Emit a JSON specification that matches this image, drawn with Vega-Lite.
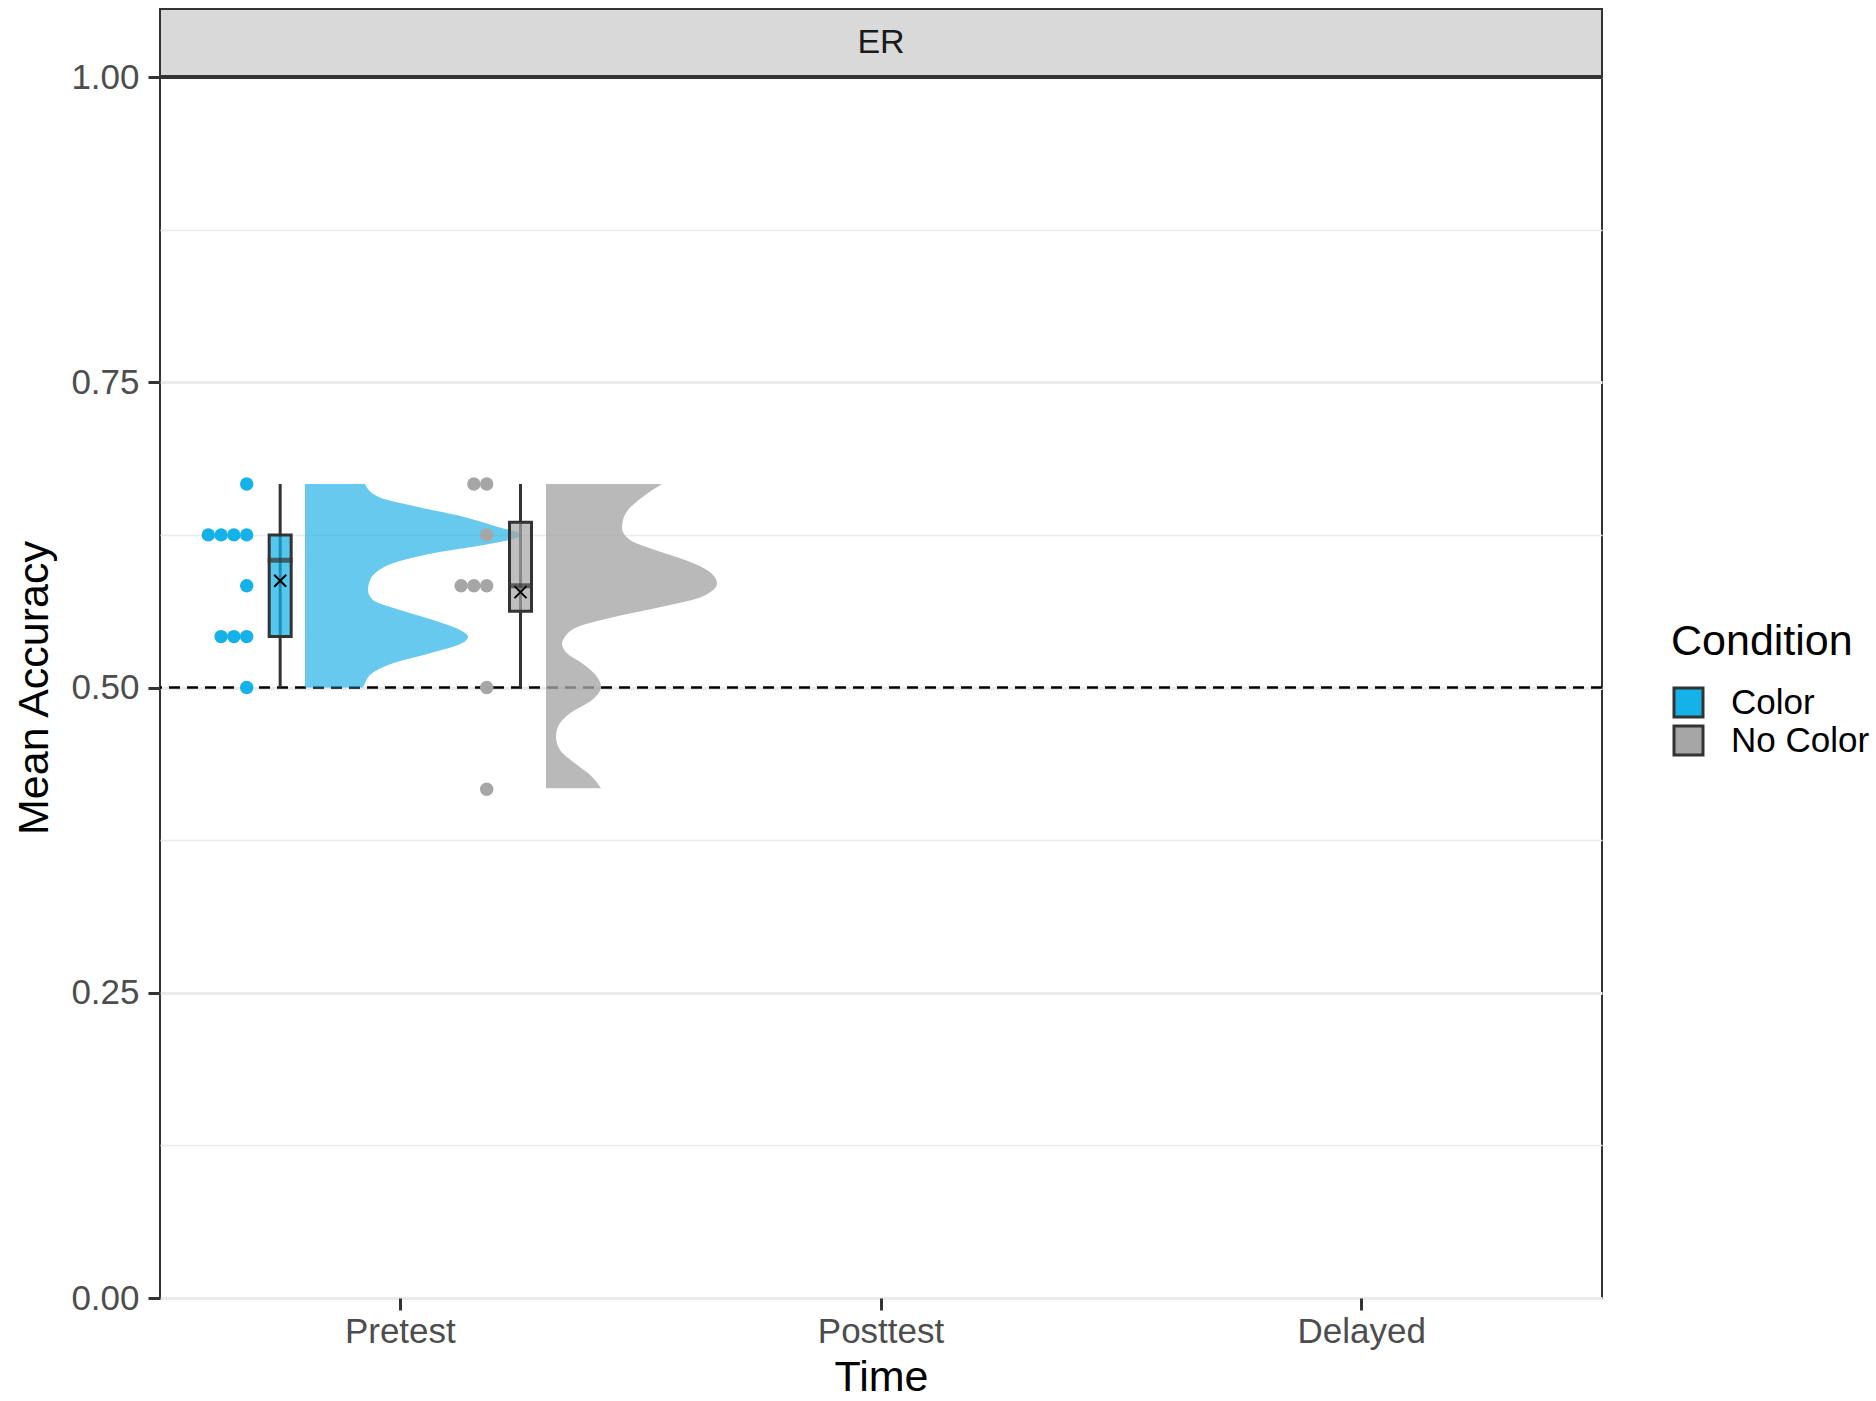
{
  "$schema": "https://vega.github.io/schema/vega-lite/v6.json",
  "width": 1442,
  "height": 1289,
  "autosize": {"type": "none"},
  "padding": {"left": 160, "top": 9, "right": 274, "bottom": 103},
  "background": "white",
  "datasets": {
    "points": [
      {"Time": "Pretest", "Condition": "Color", "Accuracy": 0.6667},
      {"Time": "Pretest", "Condition": "Color", "Accuracy": 0.625},
      {"Time": "Pretest", "Condition": "Color", "Accuracy": 0.625},
      {"Time": "Pretest", "Condition": "Color", "Accuracy": 0.625},
      {"Time": "Pretest", "Condition": "Color", "Accuracy": 0.625},
      {"Time": "Pretest", "Condition": "Color", "Accuracy": 0.5833},
      {"Time": "Pretest", "Condition": "Color", "Accuracy": 0.5417},
      {"Time": "Pretest", "Condition": "Color", "Accuracy": 0.5417},
      {"Time": "Pretest", "Condition": "Color", "Accuracy": 0.5417},
      {"Time": "Pretest", "Condition": "Color", "Accuracy": 0.5},
      {"Time": "Pretest", "Condition": "No Color", "Accuracy": 0.6667},
      {"Time": "Pretest", "Condition": "No Color", "Accuracy": 0.6667},
      {"Time": "Pretest", "Condition": "No Color", "Accuracy": 0.625},
      {"Time": "Pretest", "Condition": "No Color", "Accuracy": 0.5833},
      {"Time": "Pretest", "Condition": "No Color", "Accuracy": 0.5833},
      {"Time": "Pretest", "Condition": "No Color", "Accuracy": 0.5833},
      {"Time": "Pretest", "Condition": "No Color", "Accuracy": 0.5},
      {"Time": "Pretest", "Condition": "No Color", "Accuracy": 0.4167}
    ],
    "boxes": [
      {"Time": "Pretest", "Condition": "Color", "Min": 0.5, "Q1": 0.5417, "Median": 0.6042, "Q3": 0.625, "Max": 0.6667, "Mean": 0.5875},
      {"Time": "Pretest", "Condition": "No Color", "Min": 0.5, "Q1": 0.5625, "Median": 0.5833, "Q3": 0.6354, "Max": 0.6667, "Mean": 0.5781}
    ],
    "density": [
      {"Condition": "Color", "Accuracy": 0.6667, "Density": 6.0},
      {"Condition": "Color", "Accuracy": 0.6563, "Density": 7.3},
      {"Condition": "Color", "Accuracy": 0.6481, "Density": 11.2},
      {"Condition": "Color", "Accuracy": 0.6399, "Density": 15.8},
      {"Condition": "Color", "Accuracy": 0.6317, "Density": 19.2},
      {"Condition": "Color", "Accuracy": 0.6249, "Density": 21.7},
      {"Condition": "Color", "Accuracy": 0.6181, "Density": 18.8},
      {"Condition": "Color", "Accuracy": 0.6099, "Density": 12.8},
      {"Condition": "Color", "Accuracy": 0.6017, "Density": 8.8},
      {"Condition": "Color", "Accuracy": 0.5935, "Density": 7.0},
      {"Condition": "Color", "Accuracy": 0.5853, "Density": 6.4},
      {"Condition": "Color", "Accuracy": 0.5799, "Density": 6.3},
      {"Condition": "Color", "Accuracy": 0.5717, "Density": 6.8},
      {"Condition": "Color", "Accuracy": 0.5635, "Density": 9.5},
      {"Condition": "Color", "Accuracy": 0.5553, "Density": 12.8},
      {"Condition": "Color", "Accuracy": 0.5471, "Density": 15.5},
      {"Condition": "Color", "Accuracy": 0.5416, "Density": 16.3},
      {"Condition": "Color", "Accuracy": 0.5362, "Density": 15.7},
      {"Condition": "Color", "Accuracy": 0.528, "Density": 12.5},
      {"Condition": "Color", "Accuracy": 0.5198, "Density": 8.8},
      {"Condition": "Color", "Accuracy": 0.5116, "Density": 6.7},
      {"Condition": "Color", "Accuracy": 0.5034, "Density": 6.0},
      {"Condition": "Color", "Accuracy": 0.5, "Density": 5.8},
      {"Condition": "No Color", "Accuracy": 0.6667, "Density": 11.6},
      {"Condition": "No Color", "Accuracy": 0.6563, "Density": 9.7},
      {"Condition": "No Color", "Accuracy": 0.6454, "Density": 8.2},
      {"Condition": "No Color", "Accuracy": 0.6372, "Density": 7.7},
      {"Condition": "No Color", "Accuracy": 0.6304, "Density": 7.6},
      {"Condition": "No Color", "Accuracy": 0.6208, "Density": 8.4},
      {"Condition": "No Color", "Accuracy": 0.6126, "Density": 10.9},
      {"Condition": "No Color", "Accuracy": 0.6044, "Density": 13.9},
      {"Condition": "No Color", "Accuracy": 0.5962, "Density": 16.1},
      {"Condition": "No Color", "Accuracy": 0.5853, "Density": 17.1},
      {"Condition": "No Color", "Accuracy": 0.5744, "Density": 15.6},
      {"Condition": "No Color", "Accuracy": 0.5662, "Density": 11.6},
      {"Condition": "No Color", "Accuracy": 0.558, "Density": 6.9},
      {"Condition": "No Color", "Accuracy": 0.5498, "Density": 3.2},
      {"Condition": "No Color", "Accuracy": 0.5416, "Density": 1.9},
      {"Condition": "No Color", "Accuracy": 0.5362, "Density": 1.6},
      {"Condition": "No Color", "Accuracy": 0.528, "Density": 2.1},
      {"Condition": "No Color", "Accuracy": 0.5198, "Density": 3.6},
      {"Condition": "No Color", "Accuracy": 0.5088, "Density": 5.1},
      {"Condition": "No Color", "Accuracy": 0.5007, "Density": 5.5},
      {"Condition": "No Color", "Accuracy": 0.4898, "Density": 4.6},
      {"Condition": "No Color", "Accuracy": 0.4789, "Density": 2.4},
      {"Condition": "No Color", "Accuracy": 0.4679, "Density": 1.2},
      {"Condition": "No Color", "Accuracy": 0.4597, "Density": 1.0},
      {"Condition": "No Color", "Accuracy": 0.4488, "Density": 1.4},
      {"Condition": "No Color", "Accuracy": 0.4379, "Density": 2.9},
      {"Condition": "No Color", "Accuracy": 0.427, "Density": 4.6},
      {"Condition": "No Color", "Accuracy": 0.4175, "Density": 5.5}
    ],
    "panel": [{"Task": "ER"}]
  },
  "resolve": {"scale": {"x": "independent", "xOffset": "independent"}},
  "layer": [
    {
      "data": {"name": "panel"},
      "mark": {"type": "rect", "fill": "#D9D9D9", "stroke": "#333333", "strokeWidth": 2},
      "encoding": {
        "y": {"datum": 1, "type": "quantitative", "title": "Mean Accuracy", "scale": {"domain": [0, 1.0557], "nice": false, "zero": false}},
        "y2": {"datum": 1.0557}
      }
    },
    {
      "data": {"name": "panel"},
      "mark": {"type": "text", "fontSize": 34, "color": "#1A1A1A", "font": "Liberation Sans", "baseline": "middle", "align": "center"},
      "encoding": {
        "x": {"datum": "Posttest", "type": "nominal", "scale": {"domain": ["Pretest", "Posttest", "Delayed"]}, "axis": null},
        "y": {"datum": 1.0278, "type": "quantitative", "title": "Mean Accuracy"},
        "text": {"field": "Task", "type": "nominal"}
      }
    },
    {
      "data": {"name": "panel"},
      "mark": {"type": "rule", "color": "#333333", "strokeWidth": 4},
      "encoding": {"y": {"datum": 1, "type": "quantitative", "title": "Mean Accuracy"}}
    },
    {
      "data": {"name": "panel"},
      "mark": {"type": "rule", "color": "black", "strokeWidth": 2.5, "strokeDash": [11, 7]},
      "encoding": {"y": {"datum": 0.5, "type": "quantitative", "title": "Mean Accuracy"}}
    },
    {
      "data": {"name": "density"},
      "transform": [{"filter": "datum.Condition === 'Color'"}],
      "mark": {"type": "area", "orient": "horizontal", "interpolate": "monotone", "fill": "#1FB0E6", "fillOpacity": 0.68},
      "encoding": {
        "y": {"field": "Accuracy", "type": "quantitative", "title": "Mean Accuracy"},
        "x": {"field": "Density", "type": "quantitative", "scale": {"domain": [0, 20], "range": [145, 345], "nice": false}, "axis": null}
      }
    },
    {
      "data": {"name": "density"},
      "transform": [{"filter": "datum.Condition === 'No Color'"}],
      "mark": {"type": "area", "orient": "horizontal", "interpolate": "monotone", "fill": "#A5A5A5", "fillOpacity": 0.78},
      "encoding": {
        "y": {"field": "Accuracy", "type": "quantitative", "title": "Mean Accuracy"},
        "x": {"field": "Density", "type": "quantitative", "scale": {"domain": [0, 20], "range": [386, 586], "nice": false}, "axis": null}
      }
    },
    {
      "data": {"name": "boxes"},
      "mark": {"type": "rule", "color": "#333333", "strokeWidth": 3},
      "encoding": {
        "x": {"field": "Time", "type": "nominal", "title": "Time",
          "scale": {"domain": ["Pretest", "Posttest", "Delayed"], "paddingInner": 0, "paddingOuter": 0},
          "axis": {"labelAngle": 0, "labelPadding": 4, "title": "Time", "titleY": 101, "titleBaseline": "bottom", "ticks": true, "tickSize": 12, "tickWidth": 3, "tickColor": "#333333", "grid": false, "domain": false}},
        "xOffset": {"field": "Condition", "type": "nominal", "scale": {"domain": ["Color", "No Color"], "paddingInner": 0, "paddingOuter": 0}},
        "y": {"field": "Min", "type": "quantitative", "title": "Mean Accuracy",
          "axis": {
            "values": [0, 0.125, 0.25, 0.375, 0.5, 0.625, 0.75, 0.875, 1],
            "labelExpr": "datum.value % 0.25 === 0 ? format(datum.value, '.2f') : ''",
            "grid": true,
            "gridColor": "#EBEBEB",
            "gridWidth": {"condition": {"test": "datum.value % 0.25 === 0", "value": 3}, "value": 1.5},
            "tickOpacity": {"condition": {"test": "datum.value % 0.25 === 0", "value": 1}, "value": 0},
            "tickSize": 12, "tickWidth": 3, "tickColor": "#333333",
            "labelPadding": 9,
            "domain": false,
            "title": "Mean Accuracy",
            "titleAngle": -90,
            "titleX": -113,
            "titleY": 678.5,
            "titleAlign": "center",
            "titleBaseline": "alphabetic"
          }},
        "y2": {"field": "Max"}
      }
    },
    {
      "data": {"name": "boxes"},
      "mark": {"type": "bar", "width": 22, "stroke": "#333333", "strokeWidth": 3, "fillOpacity": 0.72},
      "encoding": {
        "x": {"field": "Time", "type": "nominal", "scale": {"domain": ["Pretest", "Posttest", "Delayed"], "paddingInner": 0, "paddingOuter": 0}, "axis": null},
        "xOffset": {"field": "Condition", "type": "nominal", "scale": {"domain": ["Color", "No Color"], "paddingInner": 0, "paddingOuter": 0}},
        "y": {"field": "Q1", "type": "quantitative", "title": "Mean Accuracy"},
        "y2": {"field": "Q3"},
        "color": {"field": "Condition", "type": "nominal", "scale": {"domain": ["Color", "No Color"], "range": ["#14B2E8", "#A6A6A6"]}}
      }
    },
    {
      "data": {"name": "boxes"},
      "mark": {"type": "tick", "orient": "horizontal", "color": "#333333", "size": 25, "thickness": 5},
      "encoding": {
        "x": {"field": "Time", "type": "nominal", "scale": {"domain": ["Pretest", "Posttest", "Delayed"], "paddingInner": 0, "paddingOuter": 0}, "axis": null},
        "xOffset": {"field": "Condition", "type": "nominal", "scale": {"domain": ["Color", "No Color"], "paddingInner": 0, "paddingOuter": 0}},
        "y": {"field": "Median", "type": "quantitative", "title": "Mean Accuracy"}
      }
    },
    {
      "data": {"name": "boxes"},
      "mark": {"type": "point", "shape": "M-1,-1L1,1M-1,1L1,-1", "filled": false, "color": "black", "strokeWidth": 2, "size": 144, "opacity": 1},
      "encoding": {
        "x": {"field": "Condition", "type": "nominal", "scale": {"type": "point", "domain": ["Color", "No Color"], "range": [120.2, 360.5], "padding": 0}, "axis": null},
        "y": {"field": "Mean", "type": "quantitative", "title": "Mean Accuracy"}
      }
    },
    {
      "data": {"name": "points"},
      "transform": [
        {"filter": "datum.Condition === 'Color'"},
        {"window": [{"op": "row_number", "as": "k"}], "groupby": ["Accuracy"]}
      ],
      "mark": {"type": "circle", "size": 180, "opacity": 1},
      "encoding": {
        "x": {"field": "k", "type": "quantitative", "scale": {"domain": [1, 4], "range": [86.7, 48.3], "nice": false, "zero": false}, "axis": null},
        "y": {"field": "Accuracy", "type": "quantitative", "title": "Mean Accuracy"},
        "color": {"field": "Condition", "type": "nominal", "scale": {"domain": ["Color", "No Color"], "range": ["#14B2E8", "#A6A6A6"]},
          "legend": {"title": "Condition", "orient": "none", "legendX": 1511, "legendY": 612, "padding": 0,
            "symbolType": "square", "symbolSize": 841, "symbolStrokeColor": "#333333", "symbolStrokeWidth": 3, "symbolOpacity": 1,
            "labelFontSize": 35, "labelColor": "black", "labelFont": "Liberation Sans", "labelLimit": 400,
            "titleFontSize": 43, "titleFontWeight": "normal", "titleColor": "black", "titleFont": "Liberation Sans", "titleLimit": 400,
            "labelOffset": 25, "rowPadding": -5, "titlePadding": 21}}
      }
    },
    {
      "data": {"name": "points"},
      "transform": [
        {"filter": "datum.Condition === 'No Color'"},
        {"window": [{"op": "row_number", "as": "k"}], "groupby": ["Accuracy"]}
      ],
      "mark": {"type": "circle", "size": 180, "opacity": 1},
      "encoding": {
        "x": {"field": "k", "type": "quantitative", "scale": {"domain": [1, 4], "range": [326.7, 288.3], "nice": false, "zero": false}, "axis": null},
        "y": {"field": "Accuracy", "type": "quantitative", "title": "Mean Accuracy"},
        "color": {"field": "Condition", "type": "nominal", "scale": {"domain": ["Color", "No Color"], "range": ["#14B2E8", "#A6A6A6"]}}
      }
    }
  ],
  "config": {
    "font": "Liberation Sans",
    "view": {"stroke": "#333333", "strokeWidth": 2},
    "axis": {
      "labelFont": "Liberation Sans",
      "titleFont": "Liberation Sans",
      "labelFontSize": 35,
      "labelColor": "#4D4D4D",
      "titleFontSize": 43,
      "titleFontWeight": "normal",
      "titleColor": "black",
      "grid": false,
      "domain": false
    }
  }
}
